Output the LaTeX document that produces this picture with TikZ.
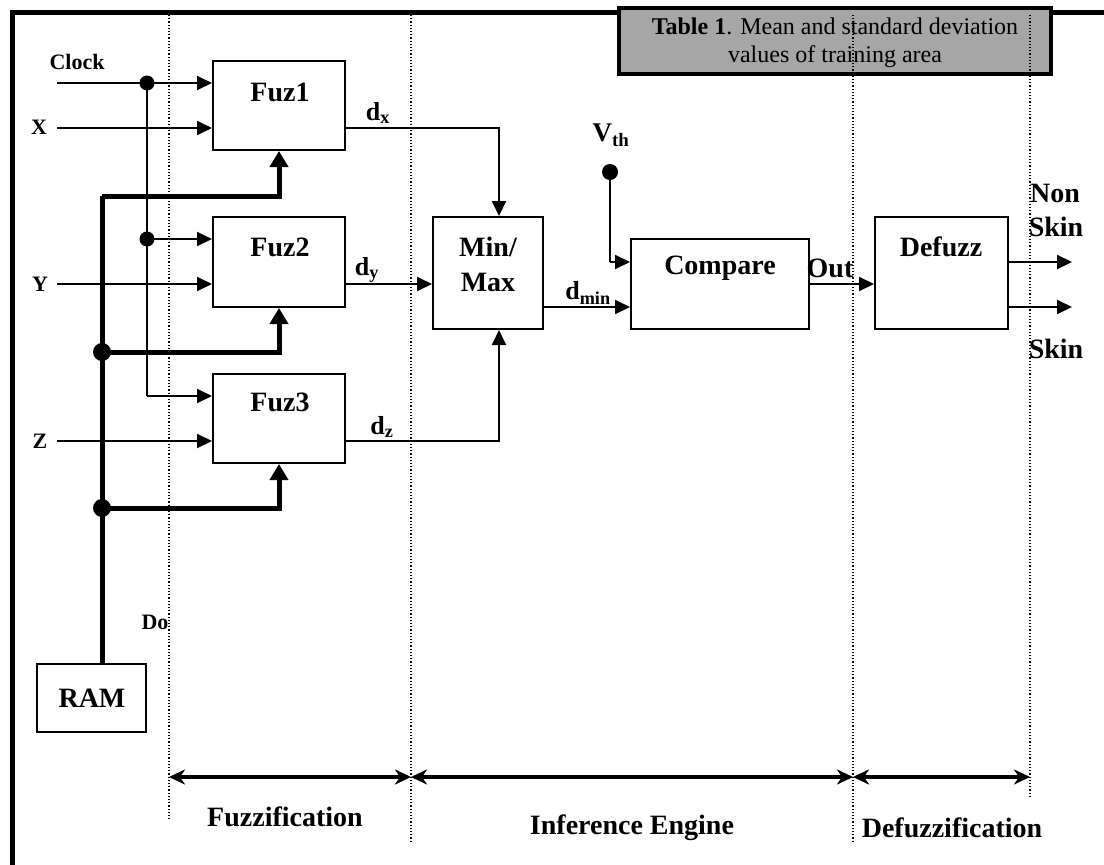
\documentclass[tikz,border=0pt]{standalone}
\usepackage{fontspec}
\setmainfont{Liberation Serif}
\usetikzlibrary{arrows.meta,calc}
\newcommand{\bigf}{\fontsize{28}{32}\selectfont\bfseries}
\newcommand{\midf}{\fontsize{22}{26}\selectfont\bfseries}
\newcommand{\subf}{\fontsize{26}{30}\selectfont\bfseries}
\begin{document}
\begin{tikzpicture}[x=1pt,y=-1pt,
  box/.style={draw,line width=2pt,inner sep=0pt,minimum width=#1},
  lbl/.style={inner sep=0pt,font=\bigf},
  slbl/.style={inner sep=0pt,font=\midf},
  dlbl/.style={inner sep=0pt,font=\subf},
  wire/.style={line width=2pt,line join=miter,-{Triangle[length=15pt,width=14pt]}},
  plain/.style={line width=2pt,line join=miter},
  bus/.style={line width=5pt,line join=miter},
  busarrow/.style={line width=5pt,line join=miter,-{Triangle[length=16pt,width=18pt]}},
  span/.style={line width=4pt,{Stealth[length=16pt,width=15pt,inset=5pt]}-{Stealth[length=16pt,width=15pt,inset=5pt]}},
  divider/.style={line width=1.2pt,dotted},
  dot/.style={circle,fill=black,inner sep=0pt,minimum size=#1}]
\useasboundingbox (0,0) rectangle (1104,865);
% frame
\draw[line width=5pt] (12.5,865) -- (12.5,12.5) -- (1104,12.5);
% table caption box
\node[draw,line width=4pt,fill=black!35,minimum width=432pt,minimum height=66pt,inner sep=0pt] (tab) at (835,41) {};
\node[inner sep=0pt,align=center,font=\fontsize{24}{28}\selectfont] (tabtxt) at (835,43) {\textbf{Table 1}. Mean and standard deviation\\values of training area};
% boxes
\node[box=132pt,minimum height=89pt] (fuz1) at (279,105.5) {};
\node[box=132pt,minimum height=90pt] (fuz2) at (279,262) {};
\node[box=132pt,minimum height=89pt] (fuz3) at (279,418.5) {};
\node[box=110pt,minimum height=112pt] (minmax) at (488,273) {};
\node[box=178pt,minimum height=90pt] (compare) at (720,284) {};
\node[box=133pt,minimum height=112pt] (defuzz) at (941.5,273) {};
\node[box=109pt,minimum height=68pt] (ram) at (91.5,698) {};
% box labels
\node[lbl] (tfuz1) at (280,92) {Fuz1};
\node[lbl] (tfuz2) at (280,247) {Fuz2};
\node[lbl] (tfuz3) at (280,402) {Fuz3};
\node[lbl] (tmin) at (488,247) {Min/};
\node[lbl] (tmax) at (488,282) {Max};
\node[lbl] (tcomp) at (720,268) {Compare};
\node[lbl] (tdef) at (941,247) {Defuzz};
\node[lbl] (tram) at (92,698) {RAM};
% inputs
\coordinate (clkin) at (57,83);
\coordinate (xin) at (57,128);
\coordinate (yin) at (57,284);
\coordinate (zin) at (57,441);
\node[slbl] (lclk) at (77,62) {Clock};
\node[slbl] (lx) at (39,127) {X};
\node[slbl] (ly) at (40,284) {Y};
\node[slbl] (lz) at (40,441) {Z};
\draw[wire] (clkin) -- (clkin -| fuz1.west);
\draw[wire] (xin) -- (xin -| fuz1.west);
\draw[wire] (yin) -- (yin -| fuz2.west);
\draw[wire] (zin) -- (zin -| fuz3.west);
% clock distribution
\node[dot=15pt] (cdot1) at (147,83) {};
\node[dot=15pt] (cdot2) at (147,239) {};
\coordinate (clk3) at (147,396);
\draw[plain] (cdot1.center) -- (clk3);
\draw[wire] (cdot2.center) -- (cdot2.center -| fuz2.west);
\draw[wire] (clk3) -- (clk3 -| fuz3.west);
% RAM bus
\coordinate (bustop) at (102,196);
\node[dot=18pt] (bdot2) at (102,352) {};
\node[dot=18pt] (bdot3) at (102,508) {};
\draw[bus] (ram.north -| bustop) -- (bustop);
\draw[busarrow] (bustop) -| (fuz1.south);
\draw[busarrow] (bdot2.center) -| (fuz2.south);
\draw[busarrow] (bdot3.center) -| (fuz3.south);
\node[slbl] (ldo) at (155,622) {Do};
% fuzzifier outputs
\draw[wire] (xin -| fuz1.east) -| ($(minmax.north)+(11,0)$);
\draw[wire] (yin -| fuz2.east) -- (yin -| minmax.west);
\draw[wire] (zin -| fuz3.east) -| ($(minmax.south)+(11,0)$);
\node[dlbl] (ldx) at (378,113) {d\textsubscript{x}};
\node[dlbl] (ldy) at (367,270) {d\textsubscript{y}};
\node[dlbl] (ldz) at (382,427) {d\textsubscript{z}};
% min/max to compare
\coordinate (dminy) at (0,307);
\draw[wire] (dminy -| minmax.east) -- (dminy -| compare.west);
\node[dlbl] (ldmin) at (588,293) {d\textsubscript{min}};
% threshold
\node[dot=16pt] (vdot) at (610,172) {};
\node[inner sep=0pt,font=\fontsize{27}{30}\selectfont\bfseries] (lvth) at (611,135) {V\textsubscript{th}};
\coordinate (vth) at (610,262);
\draw[plain] (vdot.center) -- (vth);
\draw[wire] (vth) -- (vth -| compare.west);
% compare to defuzz
\draw[wire] (compare.east) -- (compare.east -| defuzz.west);
\node[lbl] (lout) at (830,268) {Out};
% outputs
\coordinate (nsout) at (1072,262);
\coordinate (skout) at (1072,307);
\draw[wire] (nsout -| defuzz.east) -- (nsout);
\draw[wire] (skout -| defuzz.east) -- (skout);
\node[lbl] (lnon) at (1055,193) {Non};
\node[lbl] (lskin1) at (1056,227) {Skin};
\node[lbl] (lskin2) at (1056,349) {Skin};
% stage dividers
\coordinate (d1t) at (169,15); \coordinate (d1b) at (169,820);
\coordinate (d2t) at (411,15); \coordinate (d2b) at (411,842);
\coordinate (d3t) at (853,15); \coordinate (d3b) at (853,842);
\coordinate (d4t) at (1030,15); \coordinate (d4b) at (1030,797);
\draw[divider] (d1t) -- (d1b);
\draw[divider] (d2t) -- (d2b);
\draw[divider] (d3t) -- (d3b);
\draw[divider] (d4t) -- (d4b);
\coordinate (s1) at (169,777); \coordinate (s2) at (411,777);
\coordinate (s3) at (853,777); \coordinate (s4) at (1030,777);
\draw[span] (s1) -- (s2);
\draw[span] (s2) -- (s3);
\draw[span] (s3) -- (s4);
\node[lbl] (lfuzz) at (285,817) {Fuzzification};
\node[lbl] (linf) at (632,828) {Inference Engine};
\node[lbl] (ldefz) at (952,828) {Defuzzification};
\end{tikzpicture}
\end{document}
